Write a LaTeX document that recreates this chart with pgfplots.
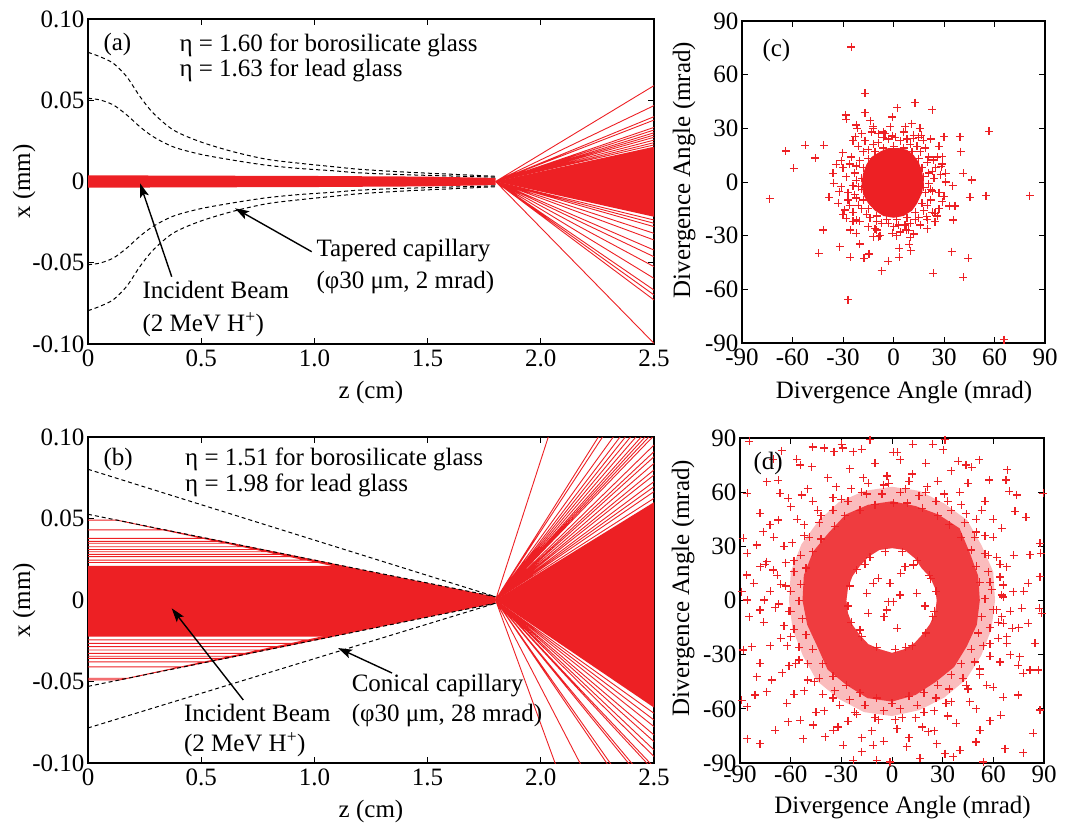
\documentclass[border=0pt]{standalone}
\usepackage{fontspec}
\setmainfont{Liberation Serif}
\usepackage{pgfplots}
\pgfplotsset{compat=1.18}
\usetikzlibrary{arrows.meta}
\definecolor{myred}{RGB}{237,32,36}
\pgfplotsset{
  myaxis/.style={scale only axis, anchor=north west,
    axis line style={line width=1.2bp},
    every tick/.style={black, line width=1bp},
    major tick length=6bp, tick align=inside,
    /pgf/number format/assume math mode=true,
    tick label style={font=\fontsize{25bp}{30bp}\selectfont},
    xticklabel style={yshift=-2bp}},
  redline/.style={myred, line width=0.9bp, unbounded coords=jump},
  dash/.style={black, line width=1bp, dash pattern=on 4bp off 3bp},
  cross/.style={only marks, mark=+, mark size=4bp, draw=myred, color=myred,
    mark options={draw=myred, fill=myred, line width=1.25bp, solid}},
}
\begin{document}
\begin{tikzpicture}[font=\fontsize{25bp}{30bp}\selectfont]
\useasboundingbox (0,0) rectangle (1067bp,-823bp);

% ---------------- (a) ----------------
\begin{axis}[myaxis, at={(88bp,-19bp)}, width=566bp, height=325bp,
  xmin=0, xmax=2.5, ymin=-0.1, ymax=0.1,
  xtick={0,0.5,1,1.5,2,2.5}, xticklabels={0,0.5,1.0,1.5,2.0,2.5},
  ytick={-0.1,-0.05,0,0.05,0.1}, yticklabels={-0.10,-0.05,0,0.05,0.10}]
\addplot[fill=myred, draw=none] coordinates {(0,0.0038) (1.0,0.0034) (1.5,0.003) (1.8,0.0022) (1.8,-0.0022) (1.5,-0.003) (1.0,-0.0034) (0,-0.0038)};
\addplot[fill=myred, draw=none] coordinates {(1.8,0) (2.5,0.0214) (2.5,-0.0217)};
\addplot[redline] coordinates {
(1.8,0) (2.5,0.0590) (2.5,nan) (1.8,0) (2.5,0.0467) (2.5,nan) (1.8,0) (2.5,0.0399) (2.5,nan)
(1.8,0) (2.5,0.0378) (2.5,nan) (1.8,0) (2.5,0.0333) (2.5,nan) (1.8,0) (2.5,0.0317) (2.5,nan)
(1.8,0) (2.5,0.0300) (2.5,nan) (1.8,0) (2.5,0.0286) (2.5,nan) (1.8,0) (2.5,0.0272) (2.5,nan)
(1.8,0) (2.5,0.0255) (2.5,nan) (1.8,0) (2.5,0.0239) (2.5,nan) (1.8,0) (2.5,0.0225) (2.5,nan)
(1.8,0) (2.5,-0.0237) (2.5,nan) (1.8,0) (2.5,-0.0257) (2.5,nan) (1.8,0) (2.5,-0.0278) (2.5,nan)
(1.8,0) (2.5,-0.0319) (2.5,nan) (1.8,0) (2.5,-0.0360) (2.5,nan) (1.8,0) (2.5,-0.0422) (2.5,nan)
(1.8,0) (2.5,-0.0463) (2.5,nan) (1.8,0) (2.5,-0.0524) (2.5,nan) (1.8,0) (2.5,-0.0596) (2.5,nan)
(1.8,0) (2.5,-0.0668) (2.5,nan) (1.8,0) (2.5,-0.0698) (2.5,nan) (1.8,0) (2.5,-0.0729) (2.5,nan)
(1.8,0) (2.5,-0.0996)};
\addplot[dash, smooth] coordinates {(0,0.0795) (0.053,0.0768) (0.112,0.0727) (0.171,0.0645) (0.230,0.0522) (0.289,0.042) (0.377,0.0317) (0.495,0.0245) (0.642,0.0183) (0.789,0.0137) (0.936,0.0112) (1.084,0.0091) (1.201,0.0075) (1.4,0.0058) (1.6,0.0045) (1.8,0.0032)};
\addplot[dash, smooth] coordinates {(0,0.0512) (0.053,0.0502) (0.112,0.0471) (0.171,0.041) (0.230,0.0336) (0.289,0.0275) (0.377,0.0213) (0.495,0.0168) (0.642,0.0131) (0.789,0.0100) (0.936,0.0080) (1.084,0.0066) (1.201,0.0053) (1.4,0.0042) (1.6,0.0034) (1.8,0.0027)};
\addplot[dash, smooth] coordinates {(0,-0.0795) (0.053,-0.0768) (0.112,-0.0727) (0.171,-0.0645) (0.230,-0.0522) (0.289,-0.042) (0.377,-0.0317) (0.495,-0.0245) (0.642,-0.0183) (0.789,-0.0137) (0.936,-0.0112) (1.084,-0.0091) (1.201,-0.0075) (1.4,-0.0058) (1.6,-0.0045) (1.8,-0.0032)};
\addplot[dash, smooth] coordinates {(0,-0.0512) (0.053,-0.0502) (0.112,-0.0471) (0.171,-0.041) (0.230,-0.0336) (0.289,-0.0275) (0.377,-0.0213) (0.495,-0.0168) (0.642,-0.0131) (0.789,-0.0100) (0.936,-0.0080) (1.084,-0.0066) (1.201,-0.0053) (1.4,-0.0042) (1.6,-0.0034) (1.8,-0.0027)};
\end{axis}

% ---------------- (b) ----------------
\begin{axis}[myaxis, at={(88bp,-437bp)}, width=566bp, height=326bp,
  xmin=0, xmax=2.5, ymin=-0.1, ymax=0.1,
  xtick={0,0.5,1,1.5,2,2.5}, xticklabels={0,0.5,1.0,1.5,2.0,2.5},
  ytick={-0.1,-0.05,0,0.05,0.1}, yticklabels={-0.10,-0.05,0,0.05,0.10}]
\addplot[fill=myred, draw=none] coordinates {(0,0.021) (1.125,0.021) (1.8,0.002) (1.8,-0.002) (1.078,-0.0225) (0,-0.0225)};
\addplot[redline] coordinates {
(0,0.049) (0.128,0.049) (1.8,0) (1.8,nan) (0,0.043) (0.342,0.043) (1.8,0) (1.8,nan)
(0,0.0378) (0.527,0.0378) (1.8,0) (1.8,nan) (0,0.036) (0.591,0.036) (1.8,0) (1.8,nan)
(0,0.0348) (0.633,0.0348) (1.8,0) (1.8,nan) (0,0.0327) (0.708,0.0327) (1.8,0) (1.8,nan)
(0,0.031) (0.769,0.031) (1.8,0) (1.8,nan) (0,0.0296) (0.819,0.0296) (1.8,0) (1.8,nan)
(0,0.028) (0.876,0.028) (1.8,0) (1.8,nan) (0,0.0266) (0.925,0.0266) (1.8,0) (1.8,nan)
(0,0.0245) (1.0,0.0245) (1.8,0) (1.8,nan) (0,0.023) (1.053,0.023) (1.8,0) (1.8,nan)
(0,-0.0245) (1.007,-0.0245) (1.8,0) (1.8,nan) (0,-0.0266) (0.933,-0.0266) (1.8,0) (1.8,nan)
(0,-0.0286) (0.862,-0.0286) (1.8,0) (1.8,nan) (0,-0.0307) (0.788,-0.0307) (1.8,0) (1.8,nan)
(0,-0.0327) (0.717,-0.0327) (1.8,0) (1.8,nan) (0,-0.0345) (0.654,-0.0345) (1.8,0) (1.8,nan)
(0,-0.0358) (0.608,-0.0358) (1.8,0) (1.8,nan) (0,-0.038) (0.530,-0.038) (1.8,0) (1.8,nan)
(0,-0.041) (0.424,-0.041) (1.8,0) (1.8,nan) (0,-0.048) (0.177,-0.048) (1.8,0) (1.8,nan)
(0,-0.049) (0.141,-0.049) (1.8,0)};
\addplot[fill=myred, draw=none] coordinates {(1.8,0) (2.5,0.060) (2.5,-0.066)};
\addplot[redline] coordinates {
(1.8,0) (2.5,0.3004) (2.5,nan) (1.8,0) (2.5,0.1541) (2.5,nan) (1.8,0) (2.5,0.1481) (2.5,nan)
(1.8,0) (2.5,0.1346) (2.5,nan) (1.8,0) (2.5,0.1273) (2.5,nan) (1.8,0) (2.5,0.1221) (2.5,nan)
(1.8,0) (2.5,0.1174) (2.5,nan) (1.8,0) (2.5,0.1129) (2.5,nan) (1.8,0) (2.5,0.1088) (2.5,nan)
(1.8,0) (2.5,0.1060) (2.5,nan) (1.8,0) (2.5,0.1034) (2.5,nan) (1.8,0) (2.5,0.1009) (2.5,nan)
(1.8,0) (2.5,0.0951) (2.5,nan) (1.8,0) (2.5,0.0910) (2.5,nan) (1.8,0) (2.5,0.0879) (2.5,nan)
(1.8,0) (2.5,0.0838) (2.5,nan) (1.8,0) (2.5,0.0798) (2.5,nan) (1.8,0) (2.5,0.0767) (2.5,nan)
(1.8,0) (2.5,0.0726) (2.5,nan) (1.8,0) (2.5,0.0695) (2.5,nan) (1.8,0) (2.5,0.0665) (2.5,nan)
(1.8,0) (2.5,0.0624) (2.5,nan)
(1.8,0) (2.5,-0.0695) (2.5,nan) (1.8,0) (2.5,-0.0736) (2.5,nan) (1.8,0) (2.5,-0.0777) (2.5,nan)
(1.8,0) (2.5,-0.0828) (2.5,nan) (1.8,0) (2.5,-0.0869) (2.5,nan) (1.8,0) (2.5,-0.0920) (2.5,nan)
(1.8,0) (2.5,-0.0960) (2.5,nan) (1.8,0) (2.5,-0.1026) (2.5,nan) (1.8,0) (2.5,-0.1048) (2.5,nan)
(1.8,0) (2.5,-0.1165) (2.5,nan) (1.8,0) (2.5,-0.1193) (2.5,nan) (1.8,0) (2.5,-0.1383) (2.5,nan)
(1.8,0) (2.5,-0.1426) (2.5,nan) (1.8,0) (2.5,-0.1877) (2.5,nan) (1.8,0) (2.5,-0.2662)};
\addplot[dash] coordinates {(0,0.0802) (1.8,0.002)};
\addplot[dash] coordinates {(0,0.0526) (1.8,0.002)};
\addplot[dash] coordinates {(0,-0.053) (1.8,-0.002)};
\addplot[dash] coordinates {(0,-0.0785) (1.8,-0.002)};
\end{axis}

% ---------------- (c) ----------------
\begin{axis}[myaxis, at={(742bp,-21bp)}, width=303bp, height=322bp,
  xmin=-90, xmax=90, ymin=-90, ymax=90,
  xtick={-90,-60,-30,0,30,60,90}, xticklabels={-90,-60,-30,0,30,60,90},
  ytick={-90,-60,-30,0,30,60,90}, yticklabels={-90,-60,-30,0,30,60,90}]
\addplot[fill=myred, draw=none] coordinates {(18,0) (17,6) (15,11) (12,15) (8,18) (3,19) (-3,19) (-8,17) (-13,14) (-16,10) (-18,5) (-19,-1) (-18,-7) (-15,-12) (-11,-16) (-6,-19) (0,-20) (6,-19) (11,-16) (14,-12) (17,-6)};
\addplot[cross] coordinates {
(-25,75.5) (-17,49.5) (12.7,44.4) (23,40.5) (2.2,41.5) (-0.8,36.4) (-28.4,37.4) (-28,35) (-17,38.7) (-22,31.8)
(-21.6,30) (-13.7,34.2) (-12,31) (-22.8,25.3) (56.7,28.4) (30,25.3) (39.5,25.3) (39.8,17) (-64,17.3) (-52.3,20.6)
(-41.4,20.6) (-46.4,13.4) (-59.3,7.6) (-33.9,9.9) (-30.3,16.4) (-73.6,-9.3) (-38.3,-8.6) (-32.3,-5.4) (-32.7,-11.9) (-41.8,-26.8)
(-44.4,-39.8) (-31.9,-36.1) (-25.6,-42) (-25.6,-26.8) (-20,-34.6) (-14.5,-40.2) (-17.6,-42.6) (-7.1,-49.5) (-3,-44.4) (3.4,-42)
(3.4,-37) (9.3,-34.8) (10.1,-38.3) (23.6,-51) (34.5,-38.9) (44.4,-42.6) (41.4,-53.2) (-27,-65.8) (65.6,-88.1) (54.9,-7.6)
(81,-7.6) (45.4,-8.6) (46.4,1.1) (41.4,4.8) (35.1,-2) (31.1,4.8) (29.1,-11) (35.5,-21.2) (36.5,-13.4) (33.1,-13.4)
(24.6,-22.1) (24.6,-17.5) (19.6,-19.3) (28.5,8.6) (23.6,12.3) (29.1,14.1) (15.7,30) (16.6,26.2) (17.6,23.4) (11.7,24.4)
(10.7,32.7) (-0.8,25.7) (-9.1,27.1) (-6.1,28) (7.7,-26.8) (6.7,-24) (-0.8,-28.6) (-28,-20.3) (-29,-15.6) (-35.9,4.8)
(-35.5,-0.7) (-12,-30.5) (-10,-26.8) (-9.1,-30.5) (-22,-21.2) (-22,-28.6) (-31,-2.6) (-21,-2.6)
(21,5) (22,-4) (20,11) (16,17) (10,21) (4,23) (-3,24) (-9,22) (-15,18) (-20,12)
(-23,5) (-24,-2) (-22,-9) (-19,-15) (-14,-20) (-7,-23) (0,-25) (7,-24) (13,-21) (18,-16)
(22,-10) (24,2) (25,8) (19,19) (12,26) (-5,27) (-17,23) (-25,14) (-27,-6) (-24,-17)
(-11,-26) (4,-28) (16,-24) (23,-17) (27,-6) (28,4) (-28,3) (-20,-22) (9,-27) (26,14)
(-13,28) (6,28) (15,25) (-26,-13) (-21,20) (20,-21) (-8,-30) (12,-29) (27,-15) (29,10)
(18,3) (18,-3) (17,8) (15,13) (11,17) (6,19) (0,20) (-6,19) (-11,17) (-15,13)
(-18,8) (-19,2) (-19,-4) (-18,-10) (-15,-15) (-10,-19) (-4,-21) (2,-21) (8,-20) (13,-17)
(17,-12) (19,-6) (21,-1) (23,6) (21,14) (14,20) (8,24) (1,25) (-6,25) (-12,21)
(-18,17) (-22,9) (-22,1) (-23,-7) (-21,-13) (-16,-18) (-10,-22) (-3,-23) (3,-24) (10,-23)
(15,-20) (20,-13) (23,-5) (-30,8) (-26,10) (-27,-10) (-24,-22) (-15,-25) (2,-30) (10,-31)
(20,-26) (26,-19) (30,-8) (31,0) (27,20) (22,24) (7,31) (-2,31) (-12,30) (-19,27)
(-24,23) (-30,-18) (-31,12)};
\end{axis}

% ---------------- (d) ----------------
\begin{axis}[myaxis, at={(740bp,-438bp)}, width=304bp, height=325bp,
  xmin=-90, xmax=90, ymin=-90, ymax=90,
  xtick={-90,-60,-30,0,30,60,90}, xticklabels={-90,-60,-30,0,30,60,90},
  ytick={-90,-60,-30,0,30,60,90}, yticklabels={-90,-60,-30,0,30,60,90},
  xticklabel style={yshift=3bp}]
% fading outer band of the ring
\addplot[fill=myred, fill opacity=0.3, draw=none] coordinates {
(61,0) (59.9,16) (53,30.6) (44.5,44.5) (31,53.7) (16.3,60.7) (0,63) (-16.3,60.7) (-31.5,54.5) (-43.8,43.8) (-53.7,31) (-59.9,16) (-61,0) (-58.9,-15.8) (-52.8,-30.5) (-44.5,-44.5) (-31.5,-54.5) (-16.6,-61.8) (0,-64) (16.3,-60.7) (31,-53.7) (43.8,-43.8) (52.8,-30.5) (58.9,-15.8) (61,0)
(26.5,0) (25.5,-6.8) (22.5,-13) (18.4,-18.4) (13.5,-23.4) (7.2,-27) (0,-29) (-7.2,-27) (-14,-24.2) (-19.1,-19.1) (-23.4,-13.5) (-26.1,-7) (-27,0) (-26.1,7) (-23.4,13.5) (-19.1,19.1) (-14,24.2) (-7.5,28) (0,29) (7.5,28) (13.5,23.4) (17.7,17.7) (22.5,13) (25.5,6.8) (26.5,0)};
% dense ring (outer boundary counter-clockwise, inner boundary clockwise)
\addplot[fill=myred, fill opacity=0.82, draw=none] coordinates {
(52,0) (51,13.7) (46,26.6) (40,40) (27.5,47.6) (14,52.3) (0,55) (-14.2,53) (-27.5,47.6) (-37.5,37.5) (-46.8,27) (-52.2,14) (-53,0) (-50.2,-13.5) (-44.2,-25.5) (-38.2,-38.2) (-27,-46.8) (-14.5,-54.1) (0,-56) (14,-52.3) (26,-45) (36.8,-36.8) (44.2,-25.5) (50.2,-13.5) (52,0)
(26.5,0) (25.5,-6.8) (22.5,-13) (18.4,-18.4) (13.5,-23.4) (7.2,-27) (0,-29) (-7.2,-27) (-14,-24.2) (-19.1,-19.1) (-23.4,-13.5) (-26.1,-7) (-27,0) (-26.1,7) (-23.4,13.5) (-19.1,19.1) (-14,24.2) (-7.5,28) (0,29) (7.5,28) (13.5,23.4) (17.7,17.7) (22.5,13) (25.5,6.8) (26.5,0)};
\addplot[cross] coordinates {
(-84.4,88.1) (-29.8,86.6) (-13,89) (31.4,89) (12.2,86.6) (24,86.6) (0.8,82) (3.2,82) (-47,85) (-40,84.4)
(-34.3,82.5) (-29.2,84.4) (-22.9,82.5) (-18,83.8) (-47.5,74.2) (-56.4,78.3) (-54.4,75.1) (-65.3,82.9) (-70.2,78.3) (-74.2,65.9)
(-67.3,66.5) (-85.6,59.4) (-66.3,59.4) (-53.5,58.5) (-61.3,56.7) (30.4,83.5) (39.3,77) (43.8,75.1) (51.7,77.9) (47.1,73.8)
(68.2,72.4) (67.5,66.8) (57.6,66.8) (73.8,58.5) (79.3,46.1) (72.8,49.3) (69.4,60.4) (89.5,59.4) (87.6,31.7) (88,26.2)
(81.7,25.3) (80.7,9.5) (87.6,13.2) (67.9,18.8) (65.9,8.6) (71.8,4.9) (76.7,-4.3) (87.2,-4.3) (88.6,-7.1) (80.7,-12.7)
(71.2,-15.4) (65.9,-12.7) (67.9,-23.8) (84.6,-23.8) (75.7,-31.1) (74.7,-35.8) (77.7,-40.4) (81.7,-38.5) (86.6,-38.5) (87.6,-60.7)
(83.6,-73.6) (77.7,-84.2) (66.9,-82) (64.3,-63.5) (65.9,-53.7) (74.7,-52.4) (58,-66.6) (52.1,-71.8) (49.7,-78.3) (40.2,-82.9)
(36.3,-86.6) (54,-89.4) (31.4,-84.8) (26.4,-79.2) (21.5,-72.7) (16.6,-87.5) (8.7,-81) (-1.2,-89.4) (-9.1,-88.5) (-11,-80.1)
(-18,-83.8) (-22.9,-88.5) (-28.8,-80.1) (-34.7,-71.8) (-39.6,-75.5) (-46.5,-69) (-52.5,-76.5) (-54.4,-66.3) (-61.3,-67.2) (-62.3,-57)
(-69.2,-71.8) (-78.1,-79.2) (-85.6,-76.5) (-89,-55.2) (-85.6,-58.9) (-81.1,-52.4) (-74.2,-50.5) (-71.2,-44) (-80.1,-42.2) (-78.1,-34.8)
(-83,-25.6) (-88,-27.4) (-84.4,-9) (-78.1,-5.3) (-75.7,0.3) (-85.6,0.3) (-89,4.9) (-86,14.1) (-78,18.8) (-82,9.5)
(-70.2,16.9) (-74.2,21.5) (-88,34.5) (-85.6,26.2) (-80.1,30.8) (-76.1,38.2) (-78.1,48.3) (-72.2,41.9) (-67.3,44.6)
(60,45) (55,55) (45,65) (35,72) (20,76) (5,78) (-10,76) (-25,73) (-38,68) (-50,62)
(-60,52) (-70,35) (-75,20) (-72,5) (-76,-12) (-72,-25) (-65,-40) (-58,-52) (-45,-62) (-32,-70)
(-18,-76) (-5,-78) (10,-76) (25,-72) (38,-68) (50,-60) (60,-48) (70,-30) (75,-15) (78,5) (72,25) (65,40)
(58,10) (62,-5) (57,25) (50,38) (44,48) (33,55) (20,60) (8,62) (-5,64) (-18,60)
(-30,56) (-42,47) (-52,36) (-58,22) (-63,8) (-61,-6) (-60,-20) (-55,-33) (-46,-45) (-35,-54)
(-22,-62) (-8,-66) (6,-65) (19,-62) (32,-57) (44,-47) (52,-38) (58,-24) (63,-12) (66,2)
(64,20) (60,35) (53,50) (40,60) (27,66) (12,70) (-3,69) (-17,68) (-33,63) (-47,55)
(-56,45) (-64,30) (-68,14) (-69,-4) (-66,-21) (-61,-36) (-52,-50) (-40,-61) (-26,-67) (-12,-72)
(3,-71) (18,-70) (33,-64) (46,-56) (56,-47) (64,-34) (68,-20) (70,-6)
(55,1) (59,6) (65,3) (52,10) (57,16) (64,13) (50,19) (55,26) (62,24) (47,28)
(49,35) (55,36) (41,35) (43,43) (50,45) (34,42) (35,50) (41,53) (27,47) (26,55)
(31,59) (18,51) (16,58) (21,63) (9,54) (5,60) (10,66) (1,54) (-6,59) (-2,65)
(-10,53) (-15,59) (-14,65) (-19,50) (-26,55) (-24,62) (-28,47) (-35,50) (-35,57) (-34,41)
(-43,43) (-44,50) (-42,34) (-49,35) (-52,42) (-47,27) (-54,25) (-59,32) (-51,18) (-58,16)
(-63,21) (-54,9) (-60,5) (-66,9) (-55,0) (-60,-6) (-67,-2) (-53,-10) (-58,-16) (-64,-14)
(-51,-19) (-55,-26) (-62,-25) (-47,-27) (-50,-35) (-57,-35) (-41,-35) (-43,-43) (-50,-44) (-35,-42)
(-34,-50) (-41,-52) (-27,-47) (-25,-55) (-31,-58) (-19,-51) (-16,-58) (-21,-63) (-9,-54) (-5,-61)
(-10,-65) (0,-57) (5,-60) (2,-66) (10,-53) (15,-58) (14,-65) (19,-51) (26,-54) (25,-61)
(27,-47) (34,-49) (35,-56) (35,-41) (42,-43) (45,-49) (41,-35) (49,-34) (52,-41) (47,-27)
(54,-25) (58,-31) (51,-18) (58,-15) (63,-21) (53,-9) (60,-5) (65,-9)
(26,5) (25,-6) (22,14) (15,22) (6,27) (-4,27) (-13,24) (-21,17) (-25,8) (-26,-3)
(-24,-12) (-18,-20) (-9,-26) (2,-27) (12,-25) (20,-18) (24,-9) (23,12) (-16,20) (8,-26)
(5.1,15) (12.6,19.7) (-1.2,9.5) (-11,9.5) (-15,4) (-2.2,-0.6) (0.8,-0.6) (-3.2,-5.3) (-4.7,-9) (3.2,-15.4)
(4.7,3) (14.6,4) (19.5,-3) (-14,-7.1) (-18.9,-16.4) (-8.1,12.3) (7.7,18.8)};
\end{axis}

% ---------------- annotations ----------------
\node[anchor=base west] at (100bp,-50bp) {(a)};
\node[anchor=base west] at (176bp,-51.7bp) {η = 1.60 for borosilicate glass};
\node[anchor=base west] at (176bp,-76.7bp) {η = 1.63 for lead glass};
\node[anchor=base west] at (139bp,-298.3bp) {Incident Beam};
\node[anchor=base west] at (139bp,-331.7bp) {(2 MeV H\textsuperscript{+})};
\node[anchor=base west] at (313bp,-256.7bp) {Tapered capillary};
\node[anchor=base west] at (313bp,-288.3bp) {(φ30 μm, 2 mrad)};
\draw[line width=1.4bp, -{Stealth[length=14bp,width=9bp,inset=3bp]}] (171.7bp,-276.7bp) -- (140bp,-183.3bp);
\draw[line width=1.4bp, -{Stealth[length=14bp,width=9bp,inset=3bp]}] (311.7bp,-251.7bp) -- (235bp,-208.3bp);
\node[anchor=base, rotate=90] at (30bp,-181.5bp) {x (mm)};
\node[anchor=base] at (371bp,-398bp) {z (cm)};

\node[anchor=base west] at (100bp,-465bp) {(b)};
\node[anchor=base west] at (181.7bp,-465bp) {η = 1.51 for borosilicate glass};
\node[anchor=base west] at (181.7bp,-491.7bp) {η = 1.98 for lead glass};
\node[anchor=base west] at (180.5bp,-721.7bp) {Incident Beam};
\node[anchor=base west] at (180.5bp,-751.7bp) {(2 MeV H\textsuperscript{+})};
\node[anchor=base west] at (348.3bp,-691.7bp) {Conical capillary};
\node[anchor=base west] at (348.3bp,-721.7bp) {(φ30 μm, 28 mrad)};
\draw[line width=1.4bp, -{Stealth[length=14bp,width=9bp,inset=3bp]}] (243.3bp,-700bp) -- (171.7bp,-608.3bp);
\draw[line width=1.4bp, -{Stealth[length=14bp,width=9bp,inset=3bp]}] (392bp,-673bp) -- (338bp,-648bp);
\node[anchor=base, rotate=90] at (30bp,-600bp) {x (mm)};
\node[anchor=base] at (371bp,-817bp) {z (cm)};

\node[anchor=base west] at (759bp,-56.7bp) {(c)};
\node[anchor=base, rotate=90] at (690bp,-170bp) {Divergence Angle (mrad)};
\node[anchor=base] at (904bp,-398bp) {Divergence Angle (mrad)};
\node[anchor=base west] at (750bp,-469bp) {(d)};
\node[anchor=base, rotate=90] at (689bp,-588bp) {Divergence Angle (mrad)};
\node[anchor=base] at (902.5bp,-813.3bp) {Divergence Angle (mrad)};
\end{tikzpicture}
\end{document}
